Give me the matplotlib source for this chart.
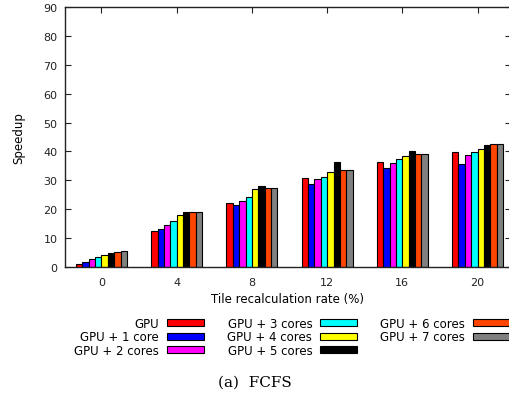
import numpy as np
import matplotlib
matplotlib.use('Agg')
import matplotlib.pyplot as plt

# data
rates = ['0', '4', '8', '12', '16', '20']
configs = ['GPU', 'GPU + 1 core', 'GPU + 2 cores', 'GPU + 3 cores',
           'GPU + 4 cores', 'GPU + 5 cores', 'GPU + 6 cores', 'GPU + 7 cores']
colors = ['#ff0000', '#0000ff', '#ff00ff', '#00ffff',
          '#ffff00', '#000000', '#ff4500', '#808080']

gpu = [1.1, 12.6, 22.2, 30.9, 36.4, 39.9]
gpu_1 = [1.9, 13.2, 21.3, 28.9, 34.1, 35.8]
gpu_2 = [2.9, 14.6, 22.9, 30.5, 35.9, 38.8]
gpu_3 = [3.5, 16.0, 24.3, 31.2, 37.4, 39.9]
gpu_4 = [4.2, 18.1, 27.1, 32.8, 38.5, 41.0]
gpu_5 = [4.9, 19.1, 27.9, 36.2, 40.0, 42.1]
gpu_6 = [5.3, 19.1, 27.3, 33.6, 39.2, 42.6]
gpu_7 = [5.4, 19.1, 27.3, 33.6, 39.2, 42.6]
series = [gpu, gpu_1, gpu_2, gpu_3, gpu_4, gpu_5, gpu_6, gpu_7]

plt.rcParams['font.family'] = 'DejaVu Sans'

fig = plt.figure(figsize=(5.10, 4.02), dpi=100)
ax = fig.add_axes([65 / 510, 134 / 402, 446 / 510, 260 / 402])

x = np.arange(len(rates))
w = 0.085
for i, (vals, c, lab) in enumerate(zip(series, colors, configs)):
    ax.bar(x + (i - 3.5) * w, vals, width=w, color=c, edgecolor='black',
           linewidth=0.8, label=lab, zorder=2)

ax.set_xlim(-0.485, 5.445)
ax.set_ylim(0, 90)
ax.set_xticks(x)
ax.set_xticklabels(rates)
ax.set_yticks(np.arange(0, 91, 10))
ax.tick_params(direction='in', top=True, right=True, length=4, width=0.8,
               labelsize=8, colors='#222222')
ax.tick_params(axis='x', pad=7)
ax.tick_params(axis='y', pad=5.5)
for s in ax.spines.values():
    s.set_linewidth(1.0)
    s.set_color('#222222')

ax.set_xlabel('Tile recalculation rate (%)', fontsize=8.5, labelpad=4)
ax.set_ylabel('Speedup', fontsize=8.5, labelpad=13)

ax.legend(loc='upper right', bbox_to_anchor=(510 / 510, 84 / 402),
          bbox_transform=fig.transFigure, ncol=3, frameon=False,
          markerfirst=False, fontsize=8.5, handlelength=3.1,
          handleheight=0.5, handletextpad=0.68, columnspacing=2.0,
          labelspacing=0.04, borderpad=0, borderaxespad=0)

fig.text(0.5, 19 / 402, '(a)  FCFS', ha='center', va='center',
         family='DejaVu Serif', fontsize=11)

fig.savefig('out.png', dpi=100)
